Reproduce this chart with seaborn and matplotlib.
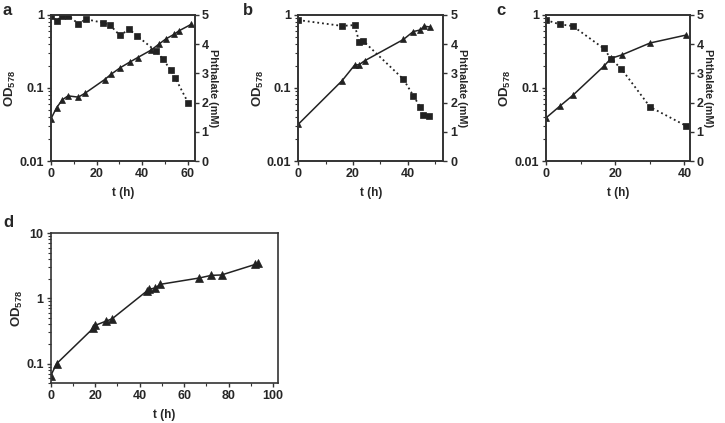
import pandas as pd
import seaborn as sns
import matplotlib.pyplot as plt
from matplotlib.ticker import LogLocator, FixedLocator, FixedFormatter, NullFormatter, MultipleLocator

# Panel a - growth (OD578) and phthalate consumption
a_t_od = [0, 2.5, 5, 7.5, 12, 15, 23.5, 26.5, 30.5, 34.5, 38, 44, 47.5, 50.5, 54, 56, 61.5]
a_od = [0.038, 0.054, 0.069, 0.078, 0.075, 0.085, 0.13, 0.155, 0.19, 0.225, 0.26, 0.33, 0.4, 0.47, 0.54, 0.6, 0.74]
a_t_ph = [0, 2.5, 5, 7.5, 12, 15.4, 22.7, 25.9, 30.2, 34.4, 37.8, 46.2, 49, 52.5, 54.5, 60.3]
a_ph = [4.97, 4.8, 4.97, 4.97, 4.7, 4.85, 4.73, 4.65, 4.3, 4.5, 4.28, 3.75, 3.5, 3.12, 2.85, 1.98]

# Panel b
b_t_od = [0, 16, 20.6, 22.2, 24.2, 38.4, 42, 44.5, 46, 48.2]
b_od = [0.032, 0.126, 0.206, 0.208, 0.235, 0.46, 0.59, 0.62, 0.7, 0.68]
b_t_ph = [0, 16, 20.6, 22.2, 23.8, 38.4, 42, 44.6, 45.6, 47.9]
b_ph = [4.82, 4.62, 4.65, 4.08, 4.1, 2.8, 2.24, 1.84, 1.57, 1.55]

# Panel c
c_t_od = [0, 4.1, 7.7, 16.8, 18.8, 21.9, 30.1, 40.6]
c_od = [0.039, 0.057, 0.079, 0.2, 0.254, 0.283, 0.412, 0.53]
c_t_ph = [0, 4.1, 7.7, 16.7, 18.8, 21.8, 30.1, 40.6]
c_ph = [4.82, 4.67, 4.62, 3.85, 3.5, 3.15, 1.85, 1.2]

# Panel d - growth only
d_t_od = [0, 2.7, 19, 20, 24.7, 27.6, 43.3, 44.3, 47, 49.3, 66.8, 72.2, 76.8, 91.8, 93.3]
d_od = [0.065, 0.1, 0.345, 0.385, 0.445, 0.485, 1.3, 1.38, 1.44, 1.64, 2.05, 2.25, 2.28, 3.3, 3.42]

sns.set_style('ticks')
plt.rcParams['font.family'] = ['Liberation Sans', 'DejaVu Sans']
plt.rcParams['font.weight'] = 'bold'
plt.rcParams['axes.labelweight'] = 'bold'
plt.rcParams['mathtext.fontset'] = 'custom'
plt.rcParams['mathtext.rm'] = 'Liberation Sans:bold'
plt.rcParams['mathtext.bf'] = 'Liberation Sans:bold'
plt.rcParams['mathtext.default'] = 'bf'

INK = '#222222'
FS = 9


def style_axis(ax):
    for s in ax.spines.values():
        s.set_visible(True)
        s.set_linewidth(1.2)
        s.set_color('#333333')
    ax.tick_params(which='major', length=3, width=1, labelsize=FS, color='#333333', pad=2)
    ax.tick_params(which='minor', length=2, width=0.8, color='#333333')


def od_axis(ax, ylim, yticks, ylabels, xmax, xticks):
    ax.set_yscale('log')
    ax.set_ylim(*ylim)
    ax.yaxis.set_major_locator(FixedLocator(yticks))
    ax.yaxis.set_major_formatter(FixedFormatter(ylabels))
    ax.yaxis.set_minor_locator(LogLocator(base=10, subs=range(2, 10)))
    ax.yaxis.set_minor_formatter(NullFormatter())
    ax.set_xlim(0, xmax)
    ax.set_xticks(xticks)
    ax.xaxis.set_minor_locator(MultipleLocator(10))
    ax.set_xlabel('t (h)', fontsize=8.5, fontweight='bold', labelpad=5)
    ax.set_ylabel('OD$_{578}$', fontsize=9.5, fontweight='bold', labelpad=1)
    style_axis(ax)


def growth_panel(rect, t_od, od, t_ph, ph, xmax, xticks, letter, letter_x):
    ax = fig.add_axes(rect)
    sns.lineplot(x=t_od, y=od, ax=ax, color=INK, lw=1.1, marker='^',
                 markersize=4, markeredgecolor=INK, markeredgewidth=0.5)
    od_axis(ax, (0.01, 1), [0.01, 0.1, 1], ['0.01', '0.1', '1'], xmax, xticks)
    ax2 = ax.twinx()
    sns.lineplot(x=t_ph, y=ph, ax=ax2, color=INK, lw=1.3, linestyle=':',
                 marker='s', markersize=4.3, markeredgecolor=INK, markeredgewidth=0.5)
    ax2.set_ylim(0, 5)
    ax2.set_yticks([0, 1, 2, 3, 4, 5])
    ax2.set_ylabel('Phthalate (mM)', fontsize=7.8, fontweight='bold', rotation=270, labelpad=7)
    style_axis(ax2)
    fig.text(letter_x, 0.975, letter, fontsize=12, fontweight='bold', va='center')
    return ax


fig = plt.figure(figsize=(7.25, 4.23), dpi=100)

growth_panel([0.0703, 0.619, 0.198, 0.346], a_t_od, a_od, a_t_ph, a_ph, 63, [0, 20, 40, 60], 'a', 0.004)
growth_panel([0.4115, 0.619, 0.200, 0.346], b_t_od, b_od, b_t_ph, b_ph, 53, [0, 20, 40], 'b', 0.335)
growth_panel([0.7531, 0.619, 0.198, 0.346], c_t_od, c_od, c_t_ph, c_ph, 41.5, [0, 20, 40], 'c', 0.684)

axd = fig.add_axes([0.0699, 0.094, 0.313, 0.355])
sns.lineplot(x=d_t_od, y=d_od, ax=axd, color=INK, lw=1.1, marker='^',
             markersize=5.5, markeredgecolor=INK, markeredgewidth=0.5)
od_axis(axd, (0.05, 10), [0.1, 1, 10], ['0.1', '1', '10'], 102, [0, 20, 40, 60, 80, 100])
fig.text(0.004, 0.475, 'd', fontsize=12, fontweight='bold', va='center')

fig.savefig('out.png', dpi=100)
